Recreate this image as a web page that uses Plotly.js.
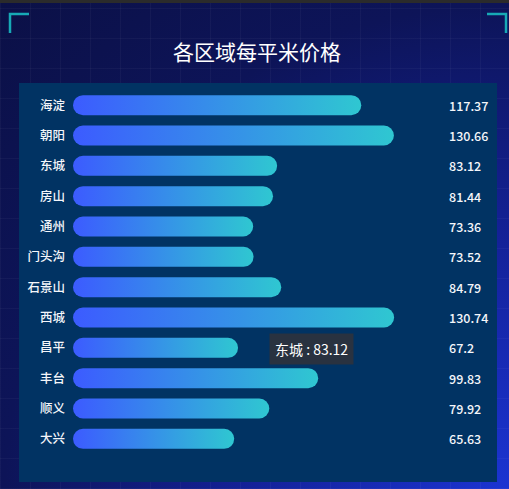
<!DOCTYPE html>
<html>
<head>
<meta charset="utf-8">
<script src="https://cdn.plot.ly/plotly-3.0.1.min.js"></script>
<style>
  html, body { margin: 0; padding: 0; }
  body {
    width: 509px; height: 489px; overflow: hidden; position: relative;
    background-color: #0b1046;
    background-image:
      repeating-linear-gradient(0deg, rgba(255,255,255,0.035) 0px, rgba(255,255,255,0.035) 1px, transparent 1px, transparent 30px),
      repeating-linear-gradient(90deg, rgba(255,255,255,0.035) 0px, rgba(255,255,255,0.035) 1px, transparent 1px, transparent 30px),
      radial-gradient(ellipse at 100% 100%, #1b34d2 0%, #14229a 35%, #0d1458 70%, #0b1046 100%);
  }
  #topbar { position: absolute; left: 0; top: 0; width: 509px; height: 3px; background: #2b2b2b; z-index: 2; }
  #chart { position: absolute; left: 0; top: 0; width: 509px; height: 489px; }
</style>
</head>
<body>
<div id="topbar"></div>
<div id="chart"></div>
<script>
// ---- data ----
const districts = ['海淀', '朝阳', '东城', '房山', '通州', '门头沟', '石景山', '西城', '昌平', '丰台', '顺义', '大兴'];
const prices = [117.37, 130.66, 83.12, 81.44, 73.36, 73.52, 84.79, 130.74, 67.2, 99.83, 79.92, 65.63];
const tooltipDistrict = '东城';
const tooltipValue = 83.12;
const chartTitle = '各区域每平米价格';

// ---- layout geometry (pixels) ----
const W = 509, H = 489;
const M = { l: 73, r: 68, t: 90, b: 35 };
const PW = W - M.l - M.r, PH = H - M.t - M.b;
const px = x => (x - M.l) / PW;
const py = y => 1 - (y - M.t) / PH;
const font = '"Noto Sans CJK SC", "Noto Sans", sans-serif';

const trace = {
  type: 'bar',
  orientation: 'h',
  y: districts,
  x: prices,
  marker: { color: '#36a0e6', cornerradius: '50%' },
  hoverinfo: 'none'
};

const annotations = districts.map((d, i) => ({
  xref: 'paper', yref: 'y',
  x: px(447), y: d,
  xanchor: 'left', yanchor: 'middle',
  text: String(prices[i]),
  showarrow: false,
  font: { family: font, size: 12.5, color: '#f4f6fa', weight: 500 }
}));

// tooltip-like box
annotations.push({
  xref: 'paper', yref: 'paper',
  x: px(311), y: py(348.5),
  xanchor: 'center', yanchor: 'middle',
  text: tooltipDistrict + ' : ' + tooltipValue,
  showarrow: false,
  bgcolor: 'rgba(43,51,62,0.95)',
  borderpad: 5,
  font: { family: font, size: 14, color: '#ffffff' }
});

const shapes = [
  { type: 'rect', xref: 'paper', yref: 'paper', layer: 'below',
    x0: px(19), x1: px(497), y0: py(482), y1: py(83),
    fillcolor: '#013363', line: { width: 0 } },
  { type: 'path', xref: 'paper', yref: 'paper',
    path: `M${px(10)},${py(33)} L${px(10)},${py(14)} L${px(29)},${py(14)}`,
    line: { color: '#17a9b6', width: 2.5 } },
  { type: 'path', xref: 'paper', yref: 'paper',
    path: `M${px(487)},${py(14)} L${px(506)},${py(14)} L${px(506)},${py(33)}`,
    line: { color: '#17a9b6', width: 2.5 } }
];

const layout = {
  width: W, height: H,
  margin: M,
  paper_bgcolor: 'rgba(0,0,0,0)',
  plot_bgcolor: 'rgba(0,0,0,0)',
  showlegend: false,
  bargap: 0.34,
  title: {
    text: chartTitle,
    x: 0.5, xref: 'paper', xanchor: 'center',
    y: 1 - 53 / H, yref: 'container', yanchor: 'middle',
    font: { family: font, size: 21, color: '#ffffff', weight: 400 }
  },
  xaxis: {
    range: [0, PW / 2.456], showgrid: false, zeroline: false,
    showticklabels: false, showline: false, fixedrange: true
  },
  yaxis: {
    type: 'category', autorange: 'reversed', showgrid: false, zeroline: false,
    showline: false, ticks: '', ticklabelstandoff: 7,
    tickfont: { family: font, size: 12.5, color: '#f4f6fa', weight: 500 },
    fixedrange: true
  },
  annotations: annotations,
  shapes: shapes
};

Plotly.newPlot('chart', [trace], layout, { displayModeBar: false, staticPlot: true }).then(gd => {
  const svg = gd.querySelector('.main-svg');
  let defs = svg.querySelector('defs');
  const NS = 'http://www.w3.org/2000/svg';
  const grad = document.createElementNS(NS, 'linearGradient');
  grad.setAttribute('id', 'barGrad');
  grad.setAttribute('x1', '0'); grad.setAttribute('y1', '0');
  grad.setAttribute('x2', '1'); grad.setAttribute('y2', '0');
  [['0', '#3c5bff'], ['1', '#2fc7d1']].forEach(([o, c]) => {
    const s = document.createElementNS(NS, 'stop');
    s.setAttribute('offset', o); s.setAttribute('stop-color', c);
    grad.appendChild(s);
  });
  defs.appendChild(grad);
  gd.querySelectorAll('.barlayer .point path').forEach(p => {
    const b = p.getBBox();
    const x0 = b.x, x1 = b.x + b.width, y0 = b.y, y1 = b.y + b.height;
    const r = Math.min(b.height / 2, b.width / 2);
    p.setAttribute('d', `M${x0 + r},${y0}H${x1 - r}A${r},${r} 0 0 1 ${x1 - r},${y1}H${x0 + r}A${r},${r} 0 0 1 ${x0 + r},${y0}Z`);
    p.style.fill = 'url(#barGrad)';
  });
});
</script>
</body>
</html>
